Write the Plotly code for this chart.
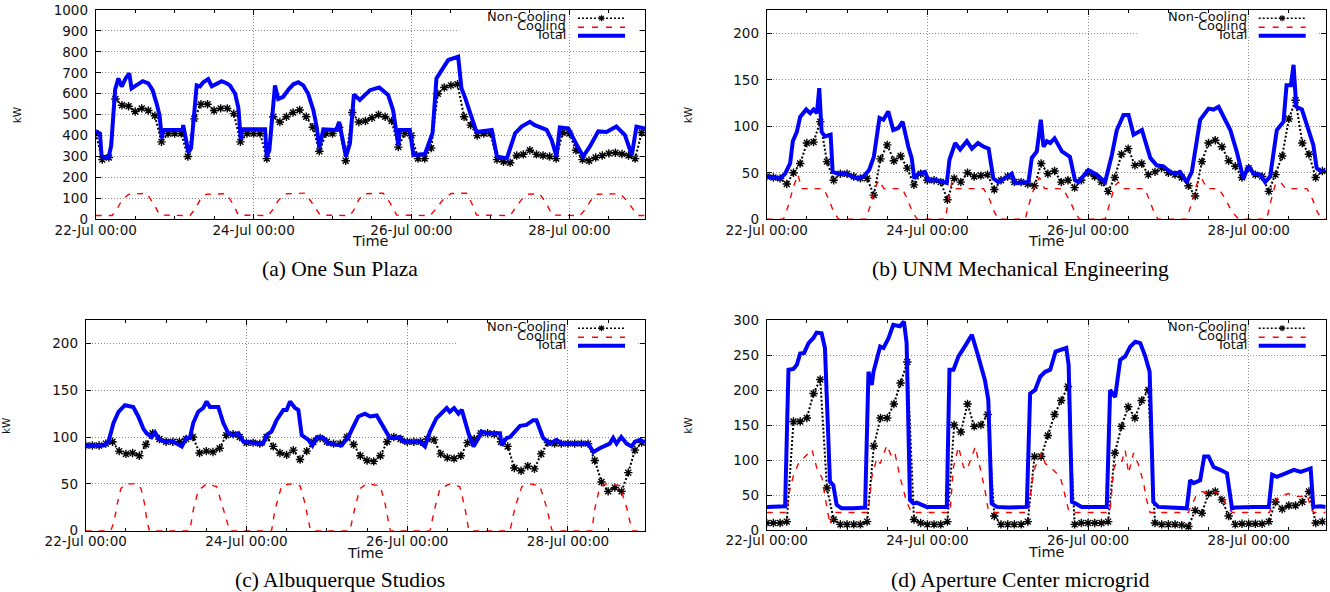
import pandas as pd
import plotly.graph_objects as go

W, H = 1330, 592
START = pd.Timestamp("2013-07-22 00:00")
END_HOUR = 167

SERIES_NAMES = ["Non-Cooling", "Cooling", "Total"]
DATE_TICKS = ["2013-07-22", "2013-07-24", "2013-07-26", "2013-07-28"]
DATE_TICK_TEXT = ["22-Jul 00:00", "24-Jul 00:00", "26-Jul 00:00", "28-Jul 00:00"]
CAPTIONS = ["(a) One Sun Plaza", "(b) UNM Mechanical Engineering",
            "(c) Albuquerque Studios", "(d) Aperture Center microgrid"]

# Non-cooling load is sampled every 2 hours (hours since 22-Jul 00:00)
NC_HOURS = list(range(0, 168, 2))

# ---------------- (a) One Sun Plaza ----------------
A_TOTAL_H = [0, 1.3, 1.8, 3.9, 4.7, 5.9, 6.9, 7.9, 9.1, 10.2, 10.9, 12.5, 14.3, 16, 17.3, 18.5, 19.4, 20.1, 20.6,
             26.4, 26.6, 28.2, 29, 30.7, 31.7, 32.7, 34.2, 35.3, 36.8, 38.3, 39.8, 40.8, 42.4, 43.4, 44.1, 44.6,
             51.5, 52, 52.8, 54.5, 55.5, 57, 58.6, 60.1, 61.6, 63.1, 64.6, 66.2, 67.2, 68, 69.2,
             73.3, 74, 76.1, 77.3, 78.5, 80.3, 83.4, 86.2, 88.9, 90.4, 91.5, 92, 92.5,
             95.5, 96.6, 100.1, 102.4, 103.6, 105.2, 107.2, 110.2, 111.2, 112.2, 113.7, 115.8,
             120.4, 122, 125, 127.5, 129.5, 132, 133.5, 137.1, 138.6, 140.1, 141.1,
             143.7, 146.2, 148.2, 150.2, 151.7, 152.8, 155.3, 158.3, 160.9, 163, 164.4, 167]
A_TOTAL_KW = [420, 410, 300, 295, 350, 620, 673, 634, 673, 697, 625, 641, 660, 650, 617, 554, 498, 387, 427,
              427, 450, 320, 340, 640, 635, 655, 670, 635, 645, 660, 650, 640, 600, 530, 380, 430,
              430, 300, 330, 640, 575, 585, 620, 645, 655, 640, 600, 520, 440, 340, 430,
              427, 466, 300, 363, 597, 570, 617, 630, 594, 522, 411, 355, 427,
              427, 307, 312, 411, 673, 713, 761, 777, 626, 586, 514, 417,
              427, 300, 291, 411, 443, 466, 450, 427, 379, 300, 439,
              434, 357, 300, 347, 395, 420, 417, 443, 402, 307, 443, 434]
A_COOL_H = [0, 5, 6.5, 8, 10, 15.5, 17.5, 19.5,
            28.7, 30.2, 31.7, 33.7, 39.8, 41.6, 43.4,
            52.5, 54, 55.5, 58, 63.6, 65.8, 68.2,
            77.3, 78.8, 80, 81.5, 87.4, 89.5, 91.5,
            101.6, 103.5, 105.5, 108, 112.7, 114.3, 115.8,
            126, 127.5, 129.5, 131.5, 135, 137, 138.8,
            147.2, 149, 150.5, 152.5, 159.4, 161.5, 163.5, 165, 167]
A_COOL_KW = [18, 18, 50, 92, 119, 124, 76, 20,
             18, 50, 92, 120, 122, 76, 20,
             18, 50, 90, 122, 125, 78, 20,
             18, 52, 95, 122, 125, 78, 20,
             18, 50, 92, 123, 125, 78, 20,
             18, 50, 95, 120, 121, 76, 20,
             18, 50, 90, 120, 122, 90, 45, 18, 18]
A_NONCOOL_KW = [410, 285, 295, 575, 545, 540, 515, 530, 520, 495, 370, 410,
                410, 410, 300, 480, 550, 550, 520, 530, 530, 505, 370, 410,
                410, 410, 290, 490, 465, 490, 510, 522, 490, 440, 325, 410,
                410, 440, 280, 510, 465, 470, 485, 500, 490, 470, 345, 411,
                400, 290, 290, 340, 600, 630, 640, 645, 490, 450, 400, 410,
                410, 285, 275, 270, 305, 310, 330, 310, 305, 300, 290, 415,
                410, 330, 285, 280, 295, 305, 315, 318, 312, 305, 290, 415]

# ---------------- (b) UNM Mechanical Engineering ----------------
B_TOTAL_H = [0, 4, 5.5, 7, 7.8, 9, 10, 11.8, 13, 14, 15, 15.7, 16.4, 17.4, 19.1, 19.7, 21.2, 23.4,
             26.9, 28.9, 30.6, 32, 33.7, 34.9, 36.3, 37.8, 39.3, 40.6, 42.3, 43.3, 44.1, 45.3, 47.3,
             48.3, 50.8, 52.8, 53.8, 54.6, 56.3, 57.8, 59.8, 61.3, 63.1, 64.8, 66.3, 67.7, 69.2, 71.2,
             73.2, 74.2, 76.7, 78.2, 79.2, 80.7, 81.9, 82.7, 83.7, 84.7, 86, 88.2, 90.6, 92.1, 93.1,
             96.1, 98.6, 101.1, 103.1, 104.6, 106.6, 108.1, 109.6, 112.1, 114.6, 116.5, 118.5,
             120.5, 122, 123.5, 125.5, 127, 129.5, 132, 133.5, 135, 138.5, 140.4, 142.4,
             143.9, 145.5, 147.4, 148.9, 150.4, 152.4, 154.4, 155.3, 156.6, 157.4, 158.2, 159.9,
             161.4, 163.3, 164.3, 165.8, 167]
B_TOTAL_KW = [46, 44, 49, 60, 84, 94, 110, 118, 114, 118, 114, 141, 94, 89, 91, 51, 49, 49,
              44, 46, 53, 67, 109, 107, 116, 96, 98, 105, 78, 66, 44, 49, 51,
              42, 42, 40, 39, 64, 82, 75, 84, 76, 82, 78, 76, 44, 40, 44,
              49, 39, 40, 40, 66, 73, 107, 78, 84, 82, 87, 73, 67, 42, 40,
              53, 48, 40, 69, 96, 112, 112, 91, 96, 66, 58, 57,
              51, 49, 51, 40, 51, 107, 119, 118, 121, 96, 73, 44,
              57, 49, 48, 40, 46, 96, 105, 144, 144, 166, 121, 118,
              100, 80, 55, 51, 53]
B_COOL_H = [0, 5, 6.5, 8, 9.3, 10.5, 17, 18.5, 20, 21.5,
            29.5, 31, 32.5, 33.5, 35, 40.5, 42, 43.5, 45,
            53.3, 54.3, 55.3, 56.5, 64.8, 66.5, 68, 69.2,
            77.2, 78.5, 80, 81.5, 83, 88.5, 90.5, 92.5, 93.5,
            101.1, 102.5, 104, 105, 106.5, 113, 114.5, 116, 117,
            125.5, 127, 128.5, 129.8, 131.5, 135, 137, 139, 141.1,
            149.4, 150.5, 152, 153.5, 155, 161.4, 163, 164.5, 165.8, 167]
B_COOL_KW = [0, 0, 15, 35, 48, 33, 33, 22, 8, 0,
             0, 15, 35, 42, 33, 33, 22, 8, 0,
             0, 20, 40, 33, 33, 22, 8, 0,
             0, 18, 35, 45, 33, 33, 20, 5, 0,
             0, 18, 36, 40, 33, 33, 20, 5, 0,
             0, 18, 38, 45, 33, 33, 22, 8, 0,
             0, 18, 38, 40, 33, 33, 22, 8, 0, 0]
B_NONCOOL_KW = [46, 45, 44, 38, 50, 60, 82, 83, 105, 62, 42, 49,
                49, 46, 44, 44, 26, 65, 80, 63, 68, 55, 37, 49,
                42, 42, 40, 21, 44, 40, 50, 46, 47, 48, 32, 42,
                46, 40, 40, 38, 36, 60, 49, 52, 40, 42, 34, 42,
                50, 46, 40, 30, 45, 70, 76, 58, 60, 48, 51, 55,
                50, 48, 45, 36, 25, 62, 82, 85, 78, 63, 57, 45,
                55, 48, 46, 30, 48, 68, 108, 128, 82, 70, 45, 52]

# ---------------- (c) Albuquerque Studios ----------------
C_TOTAL_H = [0, 5.3, 6.8, 8.3, 9.8, 11.7, 14.2, 15.7, 17.2, 18.2, 19.7, 20.7, 21.7, 22.7,
             26.2, 28.7, 30, 31.1, 32.1, 33.6, 35.1, 36.1, 37.1, 39.6, 41.1, 42.6, 44.1, 45.6, 47.1,
             53, 54, 55.5, 57, 59, 60, 61, 62.5, 63.5, 64.5, 66.5, 67.7, 69, 71, 72.4,
             76.4, 78.4, 79.9, 81.4, 83.4, 84.9, 86.9, 88.9, 90.8, 92.3, 93.8, 94.8,
             99.8, 101.3, 102.8, 104.7, 106.7, 107.8, 108.7, 110, 111.3, 112.3, 114.3, 115.8, 117.3, 118.2, 119.7,
             123.7, 124.2, 125.7, 126.7, 128.2, 129.7, 131.6, 133.6, 134.6, 136.6, 138.6, 140.6, 142.1,
             150, 151.6, 153.5, 156.5, 157.5, 158.5, 159.9, 161.5, 163, 164, 165.5, 167]
C_TOTAL_KW = [91, 91, 95, 115, 127, 134, 132, 122, 109, 104, 100, 105, 99, 96,
              95, 90, 99, 99, 115, 127, 131, 138, 132, 132, 115, 104, 102, 104, 95,
              93, 102, 106, 118, 129, 129, 138, 131, 129, 102, 97, 91, 100, 99, 93,
              91, 100, 111, 122, 125, 122, 123, 111, 99, 99, 100, 95,
              95, 90, 106, 120, 127, 131, 127, 131, 125, 129, 104, 90, 99, 106, 104,
              104, 91, 99, 100, 106, 112, 113, 118, 118, 99, 93, 97, 93,
              93, 84, 88, 93, 99, 93, 100, 93, 90, 95, 97, 94]
C_COOL_H = [0, 7.5, 8.5, 9.5, 10.5, 12, 15.5, 16.5, 17.5, 18.3, 19,
            31.1, 32.1, 33.6, 36.1, 39.1, 40.6, 42.6, 43,
            55.5, 56.5, 58.5, 61, 64, 65.5, 67, 67.3,
            78.9, 80.4, 81.9, 83.9, 87.9, 89.4, 90.8, 91,
            102.8, 104.3, 105.8, 108.7, 111.7, 113.2, 114.3, 114.5,
            126.7, 128.2, 130.2, 132.6, 135.6, 137.6, 139.1, 139.3,
            151.1, 152.1, 153.5, 155.5, 159.5, 161.5, 163, 163.2, 167]
C_COOL_KW = [0, 0, 10, 30, 45, 50, 50, 45, 30, 10, 0,
             0, 22, 43, 50, 47, 29, 4, 0,
             0, 22, 48, 50, 48, 29, 2, 0,
             0, 25, 45, 50, 48, 29, 2, 0,
             0, 25, 45, 50, 47, 25, 2, 0,
             0, 25, 47, 50, 48, 25, 2, 0,
             0, 25, 47, 50, 48, 25, 2, 0, 0]
C_NONCOOL_KW = [91, 91, 91, 93, 95, 85, 82, 83, 80, 92, 104, 98,
                95, 95, 95, 98, 100, 83, 85, 84, 88, 102, 103, 100,
                94, 94, 93, 100, 90, 83, 81, 86, 76, 85, 95, 99,
                95, 93, 93, 100, 92, 80, 75, 74, 80, 95, 100, 98,
                95, 95, 95, 98, 97, 82, 78, 77, 80, 94, 98, 104,
                104, 103, 95, 90, 67, 64, 69, 66, 82, 94, 93, 93,
                93, 93, 93, 93, 75, 52, 42, 46, 42, 62, 86, 94]

# ---------------- (d) Aperture Center microgrid ----------------
D_TOTAL_H = [0, 5.5, 6.5, 8, 9, 10, 11.2, 12.5, 13.9, 14.9, 16.4, 17.4, 18.9, 19.9, 20.9, 22.4,
             25.9, 29.4, 30.4, 31.4, 31.9, 33.9, 34.9, 36.4, 37.8, 39.8, 41, 41.8, 42.8, 43.8, 44.8, 47.8,
             53.8, 54.6, 55.8, 57.3, 59.8, 61.3, 63.2, 65.2, 66.2, 67.2, 68.7, 72.2,
             77.7, 78.7, 80.2, 81.7, 83.2, 84.7, 86.3, 87.8, 89.5, 90.2, 91.2, 92.2, 94.1,
             101.6, 102.6, 104.1, 105.6, 107.1, 108.6, 110.1, 111.6, 113.1, 114.4, 115.5, 117, 120.5,
             125.5, 126.5, 127.5, 129.5, 130.7, 132, 133.5, 135.5, 137.5, 139, 140, 145.5,
             150, 151, 152.4, 155, 157.5, 159.5, 162.5, 163.3, 165.5, 167]
D_TOTAL_KW = [33, 34, 229, 230, 236, 252, 253, 267, 274, 282, 281, 260, 69, 64, 36, 31,
              31, 32, 226, 207, 226, 262, 260, 274, 293, 291, 298, 267, 43, 38, 39, 33,
              33, 229, 229, 248, 267, 279, 248, 214, 186, 38, 33, 32,
              33, 195, 200, 219, 226, 229, 255, 258, 260, 236, 40, 38, 33,
              33, 200, 190, 243, 248, 262, 269, 267, 248, 226, 40, 33, 32,
              31, 71, 67, 71, 105, 105, 90, 86, 81, 31, 32, 33,
              33, 79, 76, 81, 86, 83, 88, 33, 34, 33]
D_COOL_H = [0, 6, 6.8, 8, 9.5, 11, 13.5, 15, 16.5, 17.5, 18.9, 20,
            30, 30.4, 31.4, 32.9, 33.9, 35.9, 37.3, 38.3, 39.8, 41.8, 43.3,
            54.6, 54.8, 55.8, 57.3, 58.8, 59.8, 61.3, 62.3, 63.7, 65.2, 66.2, 67,
            78, 78.2, 79.2, 80.2, 81.7, 82.2, 83.2, 84.7, 86.2, 87.7, 89.2, 90.2, 91,
            102.4, 102.6, 103.6, 104.6, 106.1, 107.1, 108.1, 109.6, 111.1, 112.6, 113.5, 114.5,
            126, 126.2, 128.2, 130.1, 132.1, 134.1, 136.1, 137.6, 139.1,
            150.2, 150.4, 152.4, 154.4, 155.9, 157.9, 159.9, 161.4, 162.9, 163.5, 167]
D_COOL_KW = [25, 25, 55, 78, 95, 102, 115, 88, 75, 45, 8, 25,
             25, 28, 76, 102, 95, 121, 105, 110, 76, 40, 25,
             25, 28, 90, 119, 90, 86, 105, 119, 90, 57, 28, 25,
             25, 26, 67, 90, 105, 110, 95, 90, 83, 76, 48, 28, 25,
             25, 28, 86, 98, 98, 114, 81, 110, 93, 67, 43, 25,
             25, 28, 48, 55, 52, 55, 48, 33, 25,
             25, 28, 45, 50, 52, 48, 48, 50, 28, 25, 25]
D_NONCOOL_KW = [10, 10, 10, 12, 155, 155, 160, 195, 215, 60, 15, 8,
                8, 8, 8, 12, 120, 160, 160, 180, 210, 240, 15, 10,
                8, 8, 8, 12, 150, 140, 180, 148, 150, 165, 20, 8,
                8, 8, 8, 12, 105, 105, 135, 165, 185, 205, 8, 10,
                10, 10, 10, 12, 110, 148, 176, 160, 185, 200, 10, 8,
                8, 8, 7, 5, 28, 24, 52, 55, 43, 20, 8, 9,
                9, 9, 9, 12, 40, 30, 35, 35, 40, 55, 10, 12]

PANEL_DATA = [
    (A_NONCOOL_KW, A_COOL_H, A_COOL_KW, A_TOTAL_H, A_TOTAL_KW),
    (B_NONCOOL_KW, B_COOL_H, B_COOL_KW, B_TOTAL_H, B_TOTAL_KW),
    (C_NONCOOL_KW, C_COOL_H, C_COOL_KW, C_TOTAL_H, C_TOTAL_KW),
    (D_NONCOOL_KW, D_COOL_H, D_COOL_KW, D_TOTAL_H, D_TOTAL_KW),
]
Y_RANGES = [(0, 1000, 100), (0, 225, 50), (0, 225, 50), (0, 300, 50)]
# plot-area boxes in pixels: left, right, top, bottom
BOXES = [(95.7, 645, 10, 219.3), (766.7, 1325.7, 10, 219.3),
         (85.7, 645, 320, 530.7), (766.7, 1325.7, 320, 530)]
# top gridline hidden behind the key: (value, left fraction)
KEY_GAPS = [(900, 0.66), (200, 0.662), (200, 0.664), None]
CAPTION_POS = [(340, 269), (1020, 269), (340, 580), (1020, 580)]


def times(hours):
    return [START + pd.Timedelta(seconds=round(h * 3600)) for h in hours]


TICK_FONT = dict(family="DejaVu Sans", size=13.5, color="#111111")
TEXT_COLOR = "#111111"
fig = go.Figure()
shapes, annotations = [], []
BLUE, RED = "#0000ff", "#ff0000"

for i, (nc, ch, cv, th, tv) in enumerate(PANEL_DATA):
    sfx = "" if i == 0 else str(i + 1)
    xa, ya = "x" + sfx, "y" + sfx
    fig.add_trace(go.Scatter(x=times(NC_HOURS), y=nc, xaxis=xa, yaxis=ya, mode="lines+markers",
                             name=SERIES_NAMES[0], showlegend=False,
                             line=dict(color="black", width=2, dash="2px,2px"),
                             marker=dict(symbol="asterisk-open", size=7,
                                         line=dict(color="black", width=1.4))))
    fig.add_trace(go.Scatter(x=times(ch), y=cv, xaxis=xa, yaxis=ya, mode="lines",
                             name=SERIES_NAMES[1], showlegend=False,
                             line=dict(color=RED, width=1.4, dash="6px,7px")))
    fig.add_trace(go.Scatter(x=times(th), y=tv, xaxis=xa, yaxis=ya, mode="lines",
                             name=SERIES_NAMES[2], showlegend=False,
                             line=dict(color=BLUE, width=4)))

    l, r, t, b = BOXES[i]
    y0, y1, dy = Y_RANGES[i]
    common = dict(showline=True, linecolor="black", linewidth=1, mirror="ticks",
                  ticks="inside", ticklen=5, tickcolor="black", zeroline=False,
                  showgrid=True, gridcolor="#8a8a8a", griddash="1px,2px", gridwidth=1,
                  tickfont=TICK_FONT, automargin=False)
    fig.update_layout(**{
        ("xaxis" + sfx): dict(common, type="date", domain=[l / W, r / W], anchor=ya,
                              range=[START, START + pd.Timedelta(hours=END_HOUR)],
                              tickmode="array", tickvals=DATE_TICKS, ticktext=DATE_TICK_TEXT,
                              ticklabelstandoff=-2,
                              minor=dict(dtick=12 * 3600 * 1000, tick0=DATE_TICKS[0],
                                         ticks="inside", ticklen=3, tickcolor="black",
                                         showgrid=False)),
        ("yaxis" + sfx): dict(common, domain=[1 - b / H, 1 - t / H], anchor=xa,
                              range=[y0, y1], tick0=0, dtick=dy, ticklabelstandoff=4),
    })

    # key gap over the top gridline
    if KEY_GAPS[i] is not None:
        gv, gx = KEY_GAPS[i]
        half = (y1 - y0) / (b - t) * 1.5
        shapes.append(dict(type="rect", layer="above", xref=xa + " domain", yref=ya,
                           x0=gx, x1=0.985, y0=gv - half, y1=gv + half,
                           fillcolor="white", line=dict(width=0)))

    # key (gnuplot style: text right-aligned, sample to the right)
    row_y = [t + 6.7, t + 15.7, t + 24.3]
    tx = r - 77
    sx0, sx1 = r - 67, r - 20
    for k, name in enumerate(SERIES_NAMES):
        annotations.append(dict(text=name, x=tx / W, y=1 - row_y[k] / H, xref="paper", yref="paper",
                                xanchor="right", yanchor="middle", showarrow=False,
                                font=dict(family="DejaVu Sans", size=13, color=TEXT_COLOR)))
    ly = [1 - (yy + 1.5) / H for yy in row_y]
    shapes.append(dict(type="line", xref="paper", yref="paper", x0=sx0 / W, x1=sx1 / W,
                       y0=ly[0], y1=ly[0], line=dict(color="black", width=1.6, dash="2px,2px")))
    shapes.append(dict(type="line", xref="paper", yref="paper", x0=sx0 / W, x1=sx1 / W,
                       y0=ly[1], y1=ly[1], line=dict(color=RED, width=1.4, dash="6px,8px")))
    shapes.append(dict(type="line", xref="paper", yref="paper", x0=sx0 / W, x1=sx1 / W,
                       y0=ly[2], y1=ly[2], line=dict(color=BLUE, width=4)))
    cx, cy = (sx0 + sx1) / 2, row_y[0] + 1.5
    for ddx, ddy in [(3, 0), (0, 3), (2.2, 2.2), (2.2, -2.2)]:
        shapes.append(dict(type="line", xref="paper", yref="paper",
                           x0=(cx - ddx) / W, x1=(cx + ddx) / W,
                           y0=1 - (cy - ddy) / H, y1=1 - (cy + ddy) / H,
                           line=dict(color="black", width=1.2)))

    # axis titles
    annotations.append(dict(text="Time", x=((l + r) / 2) / W, y=1 - (b + 22) / H,
                            xref="paper", yref="paper", xanchor="center", yanchor="middle",
                            showarrow=False, font=dict(family="DejaVu Sans", size=14.5, color=TEXT_COLOR)))
    annotations.append(dict(text="kW", x=(l - 79) / W, y=1 - ((t + b) / 2) / H,
                            xref="paper", yref="paper", xanchor="center", yanchor="middle",
                            textangle=-90, showarrow=False,
                            font=dict(family="DejaVu Sans", size=10.5, color=TEXT_COLOR)))
    cxp, cyp = CAPTION_POS[i]
    annotations.append(dict(text=CAPTIONS[i], x=cxp / W, y=1 - cyp / H, xref="paper", yref="paper",
                            xanchor="center", yanchor="middle", showarrow=False,
                            font=dict(family="Liberation Serif", size=21.5, color="black")))

fig.update_layout(width=W, height=H, margin=dict(l=0, r=0, t=0, b=0),
                  paper_bgcolor="white", plot_bgcolor="white", showlegend=False,
                  shapes=shapes, annotations=annotations)
fig.write_html("out.html", config={"displayModeBar": False},
               post_script="document.body.style.margin='0';document.body.style.padding='0';")
